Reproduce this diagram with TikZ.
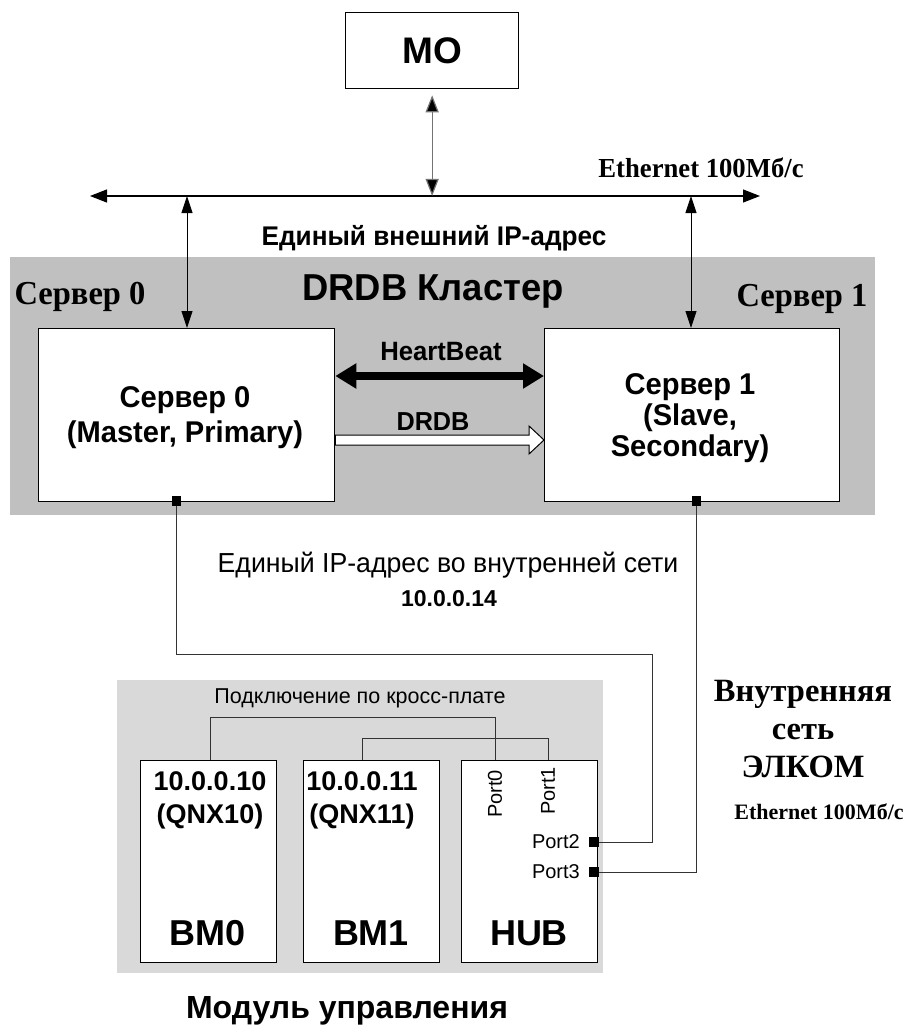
\documentclass[tikz,border=0pt]{standalone}
\usepackage{fontspec}
\setmainfont{Liberation Serif}
\setsansfont{Liberation Sans}
\newfontfamily\wsans{Liberation Sans}[FakeStretch=0.97]
\newfontfamily\wserif{Liberation Serif}[FakeStretch=0.97]
\usetikzlibrary{arrows.meta,calc}
\newcommand\fsz[2]{\fontsize{#1}{#2}\selectfont}
\definecolor{clustergray}{HTML}{C0C0C0}
\definecolor{modgray}{HTML}{D9D9D9}
\begin{document}
\begin{tikzpicture}[x=1pt,y=-1pt,
  box/.style={draw=black,fill=white,line width=1.3pt,inner sep=0pt,anchor=north west},
  tiparrow/.style={line width=0.9pt,{Triangle[length=17pt,width=11pt]}-{Triangle[length=17pt,width=11pt]}},
  busarrow/.style={line width=1.2pt,{Triangle[length=17pt,width=13pt]}-{Triangle[length=17pt,width=13pt]}},
  wire/.style={line width=0.9pt,draw=black!80},
  sq/.style={fill=black,inner sep=0pt,minimum width=9pt,minimum height=10pt},
  lbl/.style={inner sep=0pt,align=center}]
\useasboundingbox (0,0) rectangle (913,1035);
% backgrounds
\node[fill=clustergray,inner sep=0pt,anchor=north west,minimum width=865pt,minimum height=258pt] (cluster) at (10,257) {};
\node[fill=modgray,inner sep=0pt,anchor=north west,minimum width=486pt,minimum height=293pt] (module) at (117,680) {};
% MO
\node[box,minimum width=173pt,minimum height=76pt] (mo) at (345,12) {\sffamily\bfseries\fsz{37pt}{40pt}МО};
% bus
\coordinate (busL) at (90,196);
\coordinate (busR) at (760,196);
\coordinate (a0) at (187,196);
\coordinate (a1) at (691,196);
\draw[busarrow] (busL) -- (busR);
\node[lbl,font=\wserif\bfseries\fsz{27.5pt}{30pt}] (eth1) at (701,168) {Ethernet 100Мб/с};
\draw[line width=1.2pt,draw=black!55,{Triangle[length=17pt,width=13pt,fill=black]}-{Triangle[length=17pt,width=13pt,fill=black]}] ([yshift=-6pt]mo.south) -- (mo.south |- busL);
\node[lbl,font=\wsans\bfseries\fsz{27pt}{30pt}] (extip) at (434,238) {Единый внешний IP-адрес};
% servers
\node[box,minimum width=296pt,minimum height=173pt] (s0) at (38,328) {};
\node[box,minimum width=295pt,minimum height=173pt] (s1) at (544,328) {};
\node[lbl,font=\wsans\bfseries\fsz{30pt}{35pt}] (s0t) at (185,418) {Сервер 0\\(Master, Primary)};
\node[lbl,font=\wsans\bfseries\fsz{30pt}{31pt}] (s1t) at (690,418) {Сервер 1\\(Slave,\\Secondary)};
\draw[tiparrow] (a0) -- (a0 |- s0.north);
\draw[tiparrow] (a1) -- (a1 |- s1.north);
\node[lbl,font=\wserif\bfseries\fsz{33.5pt}{36pt}] (c0) at (80,297) {Сервер 0};
\node[lbl,font=\wserif\bfseries\fsz{33.5pt}{36pt}] (c1) at (802,299) {Сервер 1};
\node[lbl,font=\wsans\bfseries\fsz{37.5pt}{40pt}] (ctitle) at (433,291) {DRDB Кластер};
% HeartBeat
\coordinate (hb) at (0,376);
\draw[line width=7.5pt,{Triangle[length=21pt,width=24pt]}-{Triangle[length=21pt,width=24pt]}] (s0.east |- hb) -- (s1.west |- hb);
\node[lbl,font=\wsans\bfseries\fsz{26.5pt}{30pt}] (hbt) at (441,352) {HeartBeat};
% DRDB hollow arrow
\coordinate (dy) at (0,440);
\coordinate (da) at (s0.east |- dy);
\coordinate (db) at (s1.west |- dy);
\draw[line width=1pt,fill=white] ([yshift=5pt]da) -- ([xshift=-15pt,yshift=5pt]db) -- ([xshift=-15pt,yshift=14pt]db) -- (db) -- ([xshift=-15pt,yshift=-14pt]db) -- ([xshift=-15pt,yshift=-5pt]db) -- ([yshift=-5pt]da) -- cycle;
\node[lbl,font=\wsans\bfseries\fsz{26pt}{30pt}] (drdbt) at (433,422) {DRDB};
% server ports
\node[sq] (q0) at (176,501) {};
\node[sq] (q1) at (696,501) {};
% internal address
\node[lbl,font=\wsans\fsz{27.5pt}{30pt}] (intip) at (448,565) {Единый IP-адрес во внутренней сети};
\node[lbl,font=\sffamily\bfseries\fsz{23pt}{26pt}] (intnum) at (449,599) {10.0.0.14};
% module boxes
\node[box,minimum width=136pt,minimum height=202pt] (bm0) at (140,760) {};
\node[box,minimum width=136pt,minimum height=202pt] (bm1) at (303,760) {};
\node[box,minimum width=136pt,minimum height=202pt] (hub) at (461,760) {};
\node[lbl,font=\sffamily\bfseries\fsz{27pt}{33pt}] (bm0ip) at (210,800) {10.0.0.10\\(QNX10)};
\node[lbl,font=\sffamily\bfseries\fsz{27pt}{33pt}] (bm1ip) at (362,800) {10.0.0.11\\(QNX11)};
\node[lbl,font=\sffamily\bfseries\fsz{36pt}{40pt}] (bm0n) at (208,933) {BM0};
\node[lbl,font=\sffamily\bfseries\fsz{36pt}{40pt}] (bm1n) at (371,933) {BM1};
\node[lbl,font=\sffamily\bfseries\fsz{36pt}{40pt}] (hubn) at (529,933) {HUB};
\node[lbl,font=\sffamily\fsz{20pt}{24pt},rotate=90] (p0t) at (495,794) {Port0};
\node[lbl,font=\sffamily\fsz{20pt}{24pt},rotate=90] (p1t) at (548,791) {Port1};
\node[lbl,font=\sffamily\fsz{20pt}{24pt},anchor=east] (p2t) at (580,842) {Port2};
\node[lbl,font=\sffamily\fsz{20pt}{24pt},anchor=east] (p3t) at (580,872) {Port3};
\node[sq,minimum width=10pt,minimum height=10pt] (pq2) at (594,842) {};
\node[sq,minimum width=10pt,minimum height=10pt] (pq3) at (594,872) {};
\node[lbl,font=\sffamily\fsz{21.5pt}{24pt}] (cross) at (360,698) {Подключение по кросс-плате};
\coordinate (hp0) at (495,760);
\coordinate (hp1) at (548,760);
\coordinate (y0) at (0,717);
\coordinate (y1) at (0,738);
\draw[wire] (bm0.north -| bm0ip) -- (bm0ip |- y0) -| (hp0);
\draw[wire] (bm1.north -| bm1ip) -- (bm1ip |- y1) -| (hp1);
% internal wires
\coordinate (k1) at (652,654);
\draw[wire] (q0.south) |- (k1) |- (pq2.east);
\draw[wire] (q1.south) |- (pq3.east);
% right labels
\node[lbl,font=\bfseries\fsz{32.5pt}{38pt}] (elkom) at (803,729) {Внутренняя\\сеть\\ЭЛКОМ};
\node[lbl,font=\bfseries\fsz{22pt}{26pt}] (eth2) at (819,812) {Ethernet 100Мб/с};
\node[lbl,font=\sffamily\bfseries\fsz{32pt}{36pt}] (modt) at (347,1011) {Модуль управления};
\end{tikzpicture}
\end{document}
